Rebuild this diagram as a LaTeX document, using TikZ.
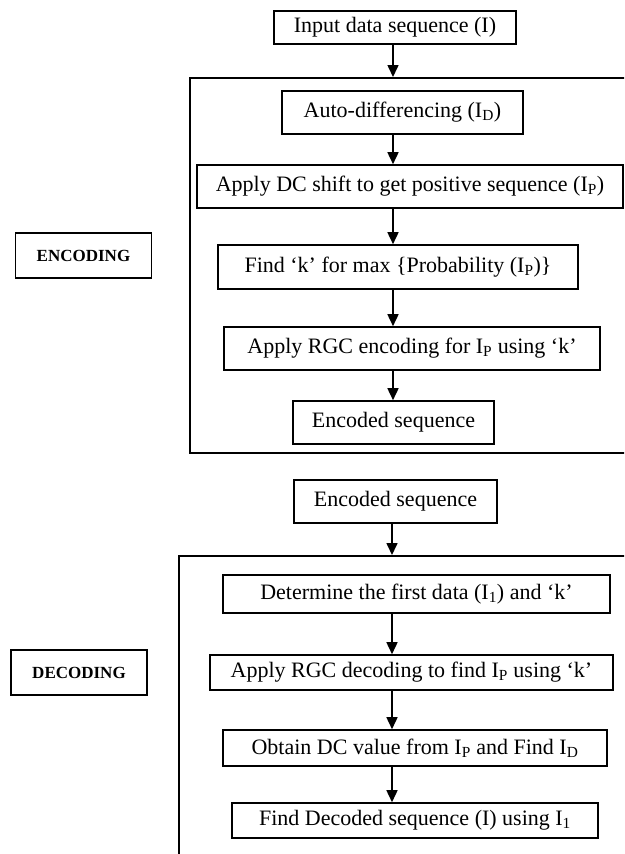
\documentclass[tikz,border=0pt]{standalone}
\usepackage{fontspec}
\setmainfont{Liberation Serif}
\usepackage{tikz}
\usetikzlibrary{arrows.meta}

\begin{document}
\begin{tikzpicture}[x=1pt,y=-1pt,>={Triangle[length=12pt,width=11pt]},
  line width=1.6pt,font=\fontsize{22}{26}\selectfont,
  stage/.style={rectangle,draw,inner sep=0pt,minimum height=43pt},
  groupbox/.style={rectangle,draw,inner sep=0pt,anchor=north west},
  sidebox/.style={rectangle,draw,inner sep=0pt,minimum width=136pt,
    minimum height=45pt,font=\fontsize{17}{20}\selectfont\bfseries}]
  \clip (0,0) rectangle (624,854);
  \coordinate (spineA) at (393,0);
  \coordinate (spineB) at (392,0);
  % encoding part
  \node[stage,minimum width=242pt,minimum height=33pt] (input) at (395,27.5) {Input data sequence (I)};
  \node[groupbox,minimum width=460pt,minimum height=375pt] (encgroup) at (189,77) {};
  \node[stage,minimum width=241pt] (autodiff) at (402.5,112.5) {Auto-differencing (I\textsubscript{D})};
  \node[stage,minimum width=426pt] (dcshift) at (410,186.5) {Apply DC shift to get positive sequence (I\textsubscript{P})};
  \node[stage,minimum width=360pt,minimum height=44pt] (findk) at (398,267) {Find ‘k’ for max \{Probability (I\textsubscript{P})\}};
  \node[stage,minimum width=376pt] (rgcenc) at (412,348.5) {Apply RGC encoding for I\textsubscript{P} using ‘k’};
  \node[stage,minimum width=201pt] (encout) at (393.5,422.5) {Encoded sequence};
  \node[sidebox] (enclabel) at (83.5,255.5) {ENCODING};
  % decoding part
  \node[stage,minimum width=203pt] (encin) at (395.5,501.5) {Encoded sequence};
  \node[groupbox,minimum width=470pt,minimum height=330pt] (decgroup) at (178,555) {};
  \node[stage,minimum width=387pt,minimum height=38pt] (firstdata) at (416.5,594) {Determine the first data (I\textsubscript{1}) and ‘k’};
  \node[stage,minimum width=403pt,minimum height=35pt] (rgcdec) at (411.5,672.5) {Apply RGC decoding to find I\textsubscript{P} using ‘k’};
  \node[stage,minimum width=384pt,minimum height=36pt] (dcvalue) at (415,748) {Obtain DC value from I\textsubscript{P} and Find I\textsubscript{D}};
  \node[stage,minimum width=366pt,minimum height=35pt] (decout) at (415,820.5) {Find Decoded sequence (I) using I\textsubscript{1}};
  \node[sidebox] (declabel) at (79,672.5) {DECODING};
  \path[->]
  (input.south -| spineA) edge (encgroup.north -| spineA)
  (autodiff.south -| spineA) edge (dcshift.north -| spineA)
  (dcshift.south -| spineA) edge (findk.north -| spineA)
  (findk.south -| spineA) edge (rgcenc.north -| spineA)
  (rgcenc.south -| spineA) edge (encout.north -| spineA)
  (encin.south -| spineB) edge (decgroup.north -| spineB)
  (firstdata.south -| spineB) edge (rgcdec.north -| spineB)
  (rgcdec.south -| spineB) edge (dcvalue.north -| spineB)
  (dcvalue.south -| spineB) edge (decout.north -| spineB);
\end{tikzpicture}
\end{document}
